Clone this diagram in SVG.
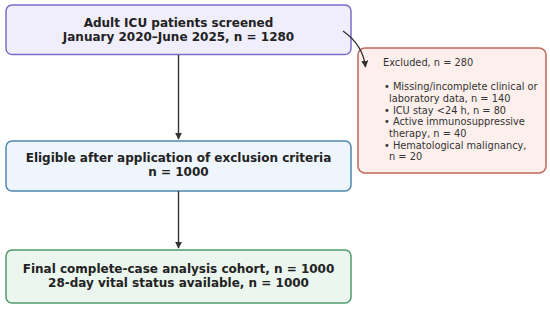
<svg xmlns="http://www.w3.org/2000/svg" width="550" height="309" viewBox="0 0 550 309">
<style>
.box{stroke-width:1.5}
.t{font-family:"DejaVu Sans",sans-serif;font-size:12px;font-weight:bold;fill:#222;text-anchor:middle}
.s{font-family:"DejaVu Sans",sans-serif;font-size:9.8px;fill:#333}
.c{fill:none;stroke:#333;stroke-width:1.4}
</style>
<defs>
<marker id="ah" viewBox="0 0 10 10" refX="9" refY="5" markerWidth="7" markerHeight="7" orient="auto" markerUnits="userSpaceOnUse">
<path d="M0,0 L10,5 L0,10 z" fill="#333"/>
</marker>
</defs>
<rect width="550" height="309" fill="#fff"/>
<g id="screened">
<rect class="box" x="6" y="5" width="345" height="49.5" rx="6" fill="#f0eefb" stroke="#7d6cc6"/>
<text class="t" x="178.5" y="27">Adult ICU patients screened</text>
<text class="t" x="178.5" y="41">January 2020–June 2025, n = 1280</text>
</g>
<g id="excluded">
<rect class="box" x="358" y="48" width="188" height="125" rx="7" fill="#fcefec" stroke="#c0675a"/>
<text class="s" x="383" y="66">Excluded, n = 280</text>
<text class="s" x="384" y="90">• Missing/incomplete clinical or</text>
<text class="s" x="389" y="102">laboratory data, n = 140</text>
<text class="s" x="384" y="113.5">• ICU stay &lt;24 h, n = 80</text>
<text class="s" x="384" y="125">• Active immunosuppressive</text>
<text class="s" x="389" y="137">therapy, n = 40</text>
<text class="s" x="384" y="148.5">• Hematological malignancy,</text>
<text class="s" x="389" y="160">n = 20</text>
</g>
<g id="eligible">
<rect class="box" x="6" y="141" width="345" height="50" rx="6" fill="#eef5fc" stroke="#4f86ae"/>
<text class="t" x="178.5" y="162">Eligible after application of exclusion criteria</text>
<text class="t" x="178.5" y="176">n = 1000</text>
</g>
<g id="final">
<rect class="box" x="6" y="250" width="345" height="53" rx="6" fill="#ebf6ee" stroke="#4f9b6c"/>
<text class="t" x="178.5" y="273">Final complete-case analysis cohort, n = 1000</text>
<text class="t" x="178.5" y="287">28-day vital status available, n = 1000</text>
</g>
<g id="connectors">
<line class="c" x1="178.5" y1="55" x2="178.5" y2="139" marker-end="url(#ah)"/>
<line class="c" x1="178.5" y1="191" x2="178.5" y2="248" marker-end="url(#ah)"/>
<path class="c" d="M343,31 Q363,45 365.5,67" marker-end="url(#ah)"/>
</g>
</svg>
